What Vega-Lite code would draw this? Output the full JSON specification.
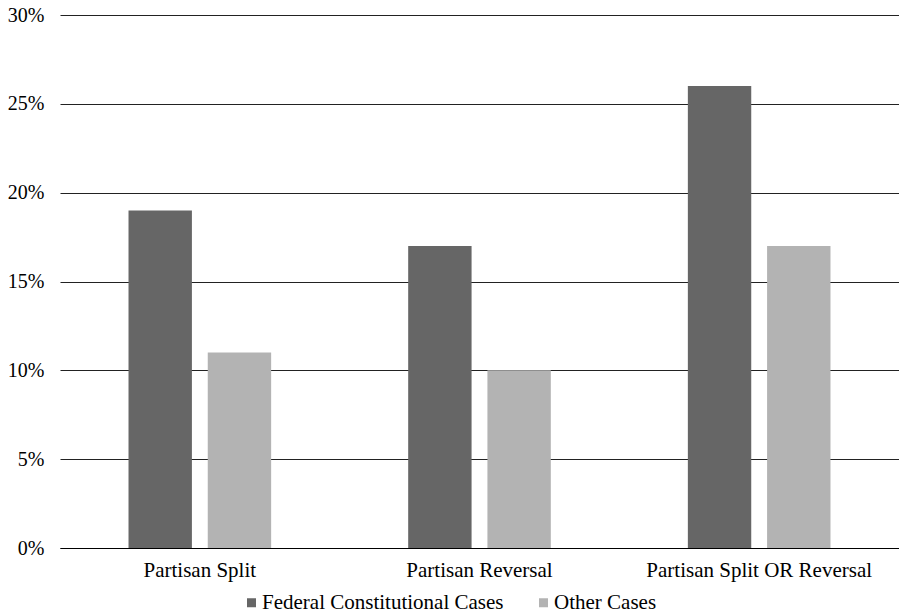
{
  "$schema": "https://vega.github.io/schema/vega-lite/v6.json",
  "width": 839,
  "height": 533,
  "autosize": {"type": "none"},
  "padding": {"left": 60, "top": 15, "right": 0, "bottom": 66},
  "background": "white",
  "config": {
    "font": "Liberation Serif",
    "view": {"stroke": null}
  },
  "data": {
    "values": [
      {"category": "Partisan Split", "series": "Federal Constitutional Cases", "value": 0.19},
      {"category": "Partisan Split", "series": "Other Cases", "value": 0.11},
      {"category": "Partisan Reversal", "series": "Federal Constitutional Cases", "value": 0.17},
      {"category": "Partisan Reversal", "series": "Other Cases", "value": 0.10},
      {"category": "Partisan Split OR Reversal", "series": "Federal Constitutional Cases", "value": 0.26},
      {"category": "Partisan Split OR Reversal", "series": "Other Cases", "value": 0.17}
    ]
  },
  "mark": {"type": "bar"},
  "encoding": {
    "x": {
      "field": "category",
      "type": "nominal",
      "sort": ["Partisan Split", "Partisan Reversal", "Partisan Split OR Reversal"],
      "scale": {"paddingInner": 0.49, "paddingOuter": 0.245},
      "axis": {
        "title": null,
        "labelAngle": 0,
        "labelFont": "Liberation Serif",
        "labelFontSize": 21,
        "labelColor": "#000",
        "labelPadding": 11,
        "labelLimit": 0,
        "ticks": false,
        "domainColor": "#000",
        "domainWidth": 1.2
      }
    },
    "xOffset": {
      "field": "series",
      "type": "nominal",
      "scale": {"paddingInner": 0.2, "paddingOuter": 0}
    },
    "y": {
      "field": "value",
      "type": "quantitative",
      "scale": {"domain": [0, 0.3]},
      "axis": {
        "title": null,
        "format": ".0%",
        "values": [0, 0.05, 0.1, 0.15, 0.2, 0.25, 0.3],
        "labelFont": "Liberation Serif",
        "labelFontSize": 20,
        "labelColor": "#000",
        "labelPadding": 16,
        "ticks": false,
        "domain": false,
        "gridColor": "#222",
        "gridWidth": 1
      }
    },
    "color": {
      "field": "series",
      "type": "nominal",
      "scale": {"domain": ["Federal Constitutional Cases", "Other Cases"], "range": ["#666666", "#b3b3b3"]},
      "legend": {
        "title": null,
        "orient": "none",
        "direction": "horizontal",
        "legendX": 181,
        "legendY": 577,
        "symbolType": "square",
        "symbolSize": 81,
        "symbolStrokeWidth": 0,
        "labelFont": "Liberation Serif",
        "labelFontSize": 21,
        "labelColor": "#000",
        "labelLimit": 0,
        "labelOffset": 0,
        "columnPadding": 29
      }
    }
  }
}
